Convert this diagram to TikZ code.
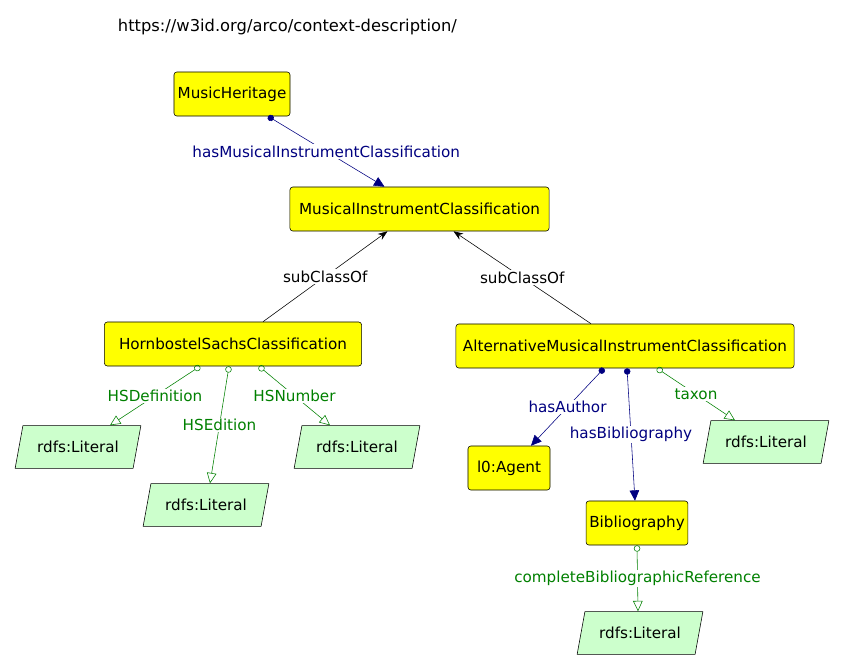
\documentclass[tikz,border=0pt]{standalone}
\usepackage{fontspec}
\setmainfont{DejaVu Sans}
\usetikzlibrary{arrows.meta,shapes.geometric,calc}
\definecolor{clsyellow}{RGB}{255,255,0}
\definecolor{litgreen}{RGB}{204,255,204}
\definecolor{objblue}{RGB}{0,0,128}
\definecolor{datagreen}{RGB}{0,128,0}

\begin{document}
\begin{tikzpicture}[
      x=0.025cm, y=-0.025cm,
      font=\fontsize{10.8}{12}\selectfont,
      classbox/.style={draw, fill=clsyellow, rounded corners=2pt,
        minimum height=1.1cm, inner xsep=0.08cm},
      literal/.style={draw, fill=litgreen, trapezium, trapezium left angle=73,
        trapezium right angle=107, trapezium stretches=true,
        minimum width=3.15cm, minimum height=1.07cm},
      objprop/.style={draw=objblue, {Circle[length=1.6mm]}-{Triangle[length=2.6mm,width=2.4mm]}},
      dataprop/.style={draw=datagreen, {Circle[open,length=1.6mm]}-{Triangle[open,length=2.6mm,width=2.4mm]}},
      subcls/.style={draw=black, -{Stealth[length=2.4mm]}},
      lbl/.style={midway, fill=white, inner sep=1pt},
    ]
    \useasboundingbox (0,0) rectangle (844,671);

    % ontology IRI
    \node[anchor=west, font=\fontsize{11.6}{13}\selectfont] (iri) at (113,27)
      {https://w3id.org/arco/context-description/};

    % classes
    \node[classbox, minimum width=2.9cm] (mh) at (232,94) {MusicHeritage};
    \node[classbox, minimum width=6.475cm] (mic) at (419.5,209) {MusicalInstrumentClassification};
    \node[classbox, minimum width=6.425cm] (hsc) at (233,344) {HornbostelSachsClassification};
    \node[classbox, minimum width=8.45cm] (amic) at (625,346) {AlternativeMusicalInstrumentClassification};
    \node[classbox, minimum width=2.05cm] (agent) at (509,468) {l0:Agent};
    \node[classbox, minimum width=2.525cm] (bib) at (637,523) {Bibliography};

    % literals
    \node[literal] (litdef) at (78,447) {rdfs:Literal};
    \node[literal] (ltied) at (206,505) {rdfs:Literal};
    \node[literal] (litnum) at (357,447) {rdfs:Literal};
    \node[literal] (littax) at (766,442) {rdfs:Literal};
    \node[literal] (litref) at (640,633) {rdfs:Literal};

    % object properties
    \draw[objprop] ($(mh.south)+(36,0)$) -- node[lbl, text=objblue]
      {hasMusicalInstrumentClassification} ($(mic.north)+(-35,0)$);
    \draw[objprop] ($(amic.south)+(-21,0)$) -- node[lbl, text=objblue]
      {hasAuthor} ($(agent.north)+(22,0)$);
    \draw[objprop] ($(amic.south)+(2,0)$) -- node[lbl, text=objblue]
      {hasBibliography} ($(bib.north)+(-2,0)$);

    % subclass links
    \draw[subcls] ($(hsc.north)+(30,0)$) -- node[lbl] {subClassOf} ($(mic.south)+(-32,0)$);
    \draw[subcls] ($(amic.north)+(-34,0)$) -- node[lbl] {subClassOf} ($(mic.south)+(34,0)$);

    % datatype properties
    \draw[dataprop] ($(hsc.south)+(-33,0)$) -- node[lbl, text=datagreen]
      {HSDefinition} ($(litdef.north)+(32,0)$);
    \draw[dataprop] ($(hsc.south)+(-4,0)$) -- node[lbl, text=datagreen]
      {HSEdition} ($(ltied.north)+(4,0)$);
    \draw[dataprop] ($(hsc.south)+(26,0)$) -- node[lbl, text=datagreen]
      {HSNumber} ($(litnum.north)+(-27,0)$);
    \draw[dataprop] ($(amic.south)+(32,0)$) -- node[lbl, text=datagreen]
      {taxon} ($(littax.north)+(-31,0)$);
    \draw[dataprop] (bib.south) -- node[lbl, text=datagreen]
      {completeBibliographicReference} ($(litref.north)+(-2,0)$);
  \end{tikzpicture}
\end{document}
